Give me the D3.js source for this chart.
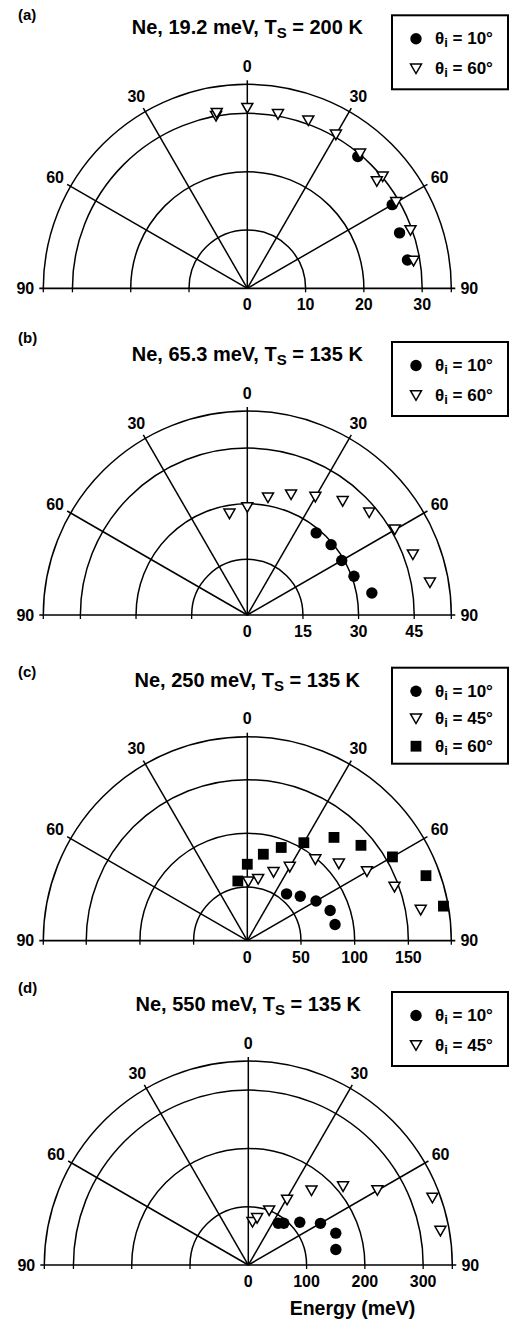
<!DOCTYPE html>
<html>
<head>
<meta charset="utf-8">
<script src="https://cdn.jsdelivr.net/npm/d3@7"></script>
<style>
  html, body { margin: 0; padding: 0; background: #fff; }
  svg { display: block; }
  text { font-family: "Liberation Sans", Arial, Helvetica, sans-serif; font-weight: bold; fill: #000; }
</style>
</head>
<body>
<svg id="chart" width="510" height="1321"></svg>
<script>
// ---- Data: scattered-atom angle (deg from normal) and final energy (meV) ----

// (a) Ne, 19.2 meV, Ts = 200 K
const aTitle = ["Ne, 19.2 meV, T", "S", " = 200 K"];
const aRings = [10, 20, 30];
const aOuter = 35;
const aTicks = ["0", "10", "20", "30"];
const aCircAngle = [40, 60, 70, 80];
const aCircEnergy = [29.5, 28.7, 27.8, 27.9];
const aTriAngle = [-10.3, -9.9, 0, 10, 20, 30, 40, 50.5, 50.5, 60, 70.5, 80.7];
const aTriEnergy = [30.0, 30.5, 30.9, 30.3, 30.6, 30.4, 30.1, 30.1, 28.8, 29.5, 29.7, 28.9];

// (b) Ne, 65.3 meV, Ts = 135 K
const bTitle = ["Ne, 65.3 meV, T", "S", " = 135 K"];
const bRings = [15, 30, 45];
const bOuter = 55;
const bTicks = ["0", "15", "30", "45"];
const bCircAngle = [40, 50, 60, 70, 80];
const bCircEnergy = [28.9, 29.5, 29.4, 30.6, 34.1];
const bTriAngle = [-10, 0, 10, 20, 30, 40, 50, 60, 70, 80];
const bTriEnergy = [27.7, 29.0, 32.1, 34.5, 36.7, 40.0, 42.9, 45.9, 47.5, 50.0];

// (c) Ne, 250 meV, Ts = 135 K
const cTitle = ["Ne, 250 meV, T", "S", " = 135 K"];
const cRings = [50, 100, 150];
const cOuter = 190;
const cTicks = ["0", "50", "100", "150"];
const cCircAngle = [40, 50, 60, 70, 79.5];
const cCircEnergy = [56.9, 64.4, 73.9, 82.1, 83.1];
const cTriAngle = [1, 10, 21, 30, 40, 50, 60, 70, 80];
const cTriEnergy = [54.9, 58.1, 68.2, 79.1, 98.6, 111.3, 128.7, 145.9, 164.0];
const cSqAngle = [-9, 0, 10.5, 20, 30, 40, 50, 60, 70, 80];
const cSqEnergy = [56.3, 71.2, 81.9, 92.4, 105.4, 125.6, 138.2, 156.1, 177.1, 185.5];

// (d) Ne, 550 meV, Ts = 135 K
const dTitle = ["Ne, 550 meV, T", "S", " = 135 K"];
const dRings = [100, 200, 300];
const dOuter = 350;
const dTicks = ["0", "100", "200", "300"];
const dCircAngle = [35.6, 40.4, 50.3, 60, 70, 80];
const dCircEnergy = [88, 94, 114.8, 143, 159.7, 152.5];
const dTriAngle = [5.6, 10.7, 21, 30.8, 40.4, 50.4, 60, 70, 80];
const dTriEnergy = [73.6, 81.5, 99.8, 129.9, 167.3, 211, 255.7, 336.1, 334.7];

// Polar angle grid (deg from surface normal) and its labels
const angleGrid = [-90, -60, -30, 0, 30, 60, 90];
const angleLabels = ["90", "60", "30", "0", "30", "60", "90"];

// Legend labels (incidence angles)
const legend10 = "10";
const legend45 = "45";
const legend60 = "60";

// ---- Panel layout ----
const R = 204;                 // outer ring radius in px
const panels = [
  { tag: "(a)", tagY: 20, cx: 247.3, cy: 288.3, title: aTitle, rings: aRings, outer: aOuter, ticks: aTicks,
    series: [
      { kind: "circle", angle: aCircAngle, energy: aCircEnergy, label: legend10 },
      { kind: "tri", angle: aTriAngle, energy: aTriEnergy, label: legend60 } ] },
  { tag: "(b)", tagY: 343, cx: 247.3, cy: 615, title: bTitle, rings: bRings, outer: bOuter, ticks: bTicks,
    series: [
      { kind: "circle", angle: bCircAngle, energy: bCircEnergy, label: legend10 },
      { kind: "tri", angle: bTriAngle, energy: bTriEnergy, label: legend60 } ] },
  { tag: "(c)", tagY: 677, cx: 247.3, cy: 940.7, title: cTitle, rings: cRings, outer: cOuter, ticks: cTicks,
    series: [
      { kind: "circle", angle: cCircAngle, energy: cCircEnergy, label: legend10 },
      { kind: "tri", angle: cTriAngle, energy: cTriEnergy, label: legend45 },
      { kind: "square", angle: cSqAngle, energy: cSqEnergy, label: legend60 } ] },
  { tag: "(d)", tagY: 993, cx: 248.3, cy: 1265, title: dTitle, rings: dRings, outer: dOuter, ticks: dTicks,
    series: [
      { kind: "circle", angle: dCircAngle, energy: dCircEnergy, label: legend10 },
      { kind: "tri", angle: dTriAngle, energy: dTriEnergy, label: legend45 } ] }
];

const svg = d3.select("#chart");
const toRad = d3.scaleLinear().domain([-90, 90]).range([-Math.PI / 2, Math.PI / 2]);

function marker(g, kind, x, y) {
  if (kind === "circle") {
    g.append("circle").attr("cx", x).attr("cy", y).attr("r", 5.7).attr("fill", "#000");
  } else if (kind === "square") {
    g.append("rect").attr("x", x - 5.4).attr("y", y - 5.4).attr("width", 10.8).attr("height", 10.8).attr("fill", "#000");
  } else {
    const w = 5.5, h = 4.8;
    g.append("path")
      .attr("d", `M${x - w},${y - h}L${x + w},${y - h}L${x},${y + h}Z`)
      .attr("fill", "#fff").attr("stroke", "#000").attr("stroke-width", 1.5)
      .attr("stroke-linejoin", "miter");
  }
}

panels.forEach(p => {
  const g = svg.append("g");
  const rScale = d3.scaleLinear().domain([0, p.outer]).range([0, R]);
  const pt = (a, e) => {
    const [x, y] = d3.pointRadial(toRad(a), rScale(e));
    return [p.cx + x, p.cy + y];
  };

  // rings: value rings plus the outer boundary
  const ringVals = p.rings.concat([p.outer]);
  ringVals.forEach(v => {
    const r = rScale(v);
    const path = d3.path();
    path.moveTo(p.cx - r, p.cy);
    path.arc(p.cx, p.cy, r, Math.PI, 2 * Math.PI);
    g.append("path").attr("d", path.toString())
      .attr("fill", "none").attr("stroke", "#000").attr("stroke-width", 1.5);
    // small ticks below the baseline
    [-1, 1].forEach(s => {
      g.append("line").attr("x1", p.cx + s * r).attr("x2", p.cx + s * r)
        .attr("y1", p.cy).attr("y2", p.cy + 4)
        .attr("stroke", "#000").attr("stroke-width", 1.3);
    });
  });

  // baseline (90° directions)
  g.append("line").attr("x1", p.cx - R - 4).attr("x2", p.cx + R + 4)
    .attr("y1", p.cy).attr("y2", p.cy).attr("stroke", "#000").attr("stroke-width", 1.7);

  // radial grid lines
  angleGrid.filter(a => Math.abs(a) < 90).forEach(a => {
    const [x, y] = d3.pointRadial(toRad(a), R + 4);
    g.append("line").attr("x1", p.cx).attr("y1", p.cy)
      .attr("x2", p.cx + x).attr("y2", p.cy + y)
      .attr("stroke", "#000").attr("stroke-width", 1.5);
  });

  // angle labels
  angleGrid.forEach((a, i) => {
    const [x, y] = d3.pointRadial(toRad(a), R + 18);
    g.append("text").attr("x", p.cx + x).attr("y", p.cy + y)
      .attr("text-anchor", "middle").attr("dy", "0.36em")
      .attr("font-size", 16).text(angleLabels[i]);
  });

  // energy tick labels on the baseline
  [0].concat(p.rings).forEach((v, i) => {
    g.append("text").attr("x", p.cx + rScale(v)).attr("y", p.cy + 22)
      .attr("text-anchor", "middle").attr("font-size", 16).text(p.ticks[i]);
  });

  // title
  const t = g.append("text").attr("x", p.cx).attr("y", p.cy - 254)
    .attr("text-anchor", "middle").attr("font-size", 20);
  t.append("tspan").text(p.title[0]);
  t.append("tspan").attr("font-size", 15).attr("dy", 4).text(p.title[1]);
  t.append("tspan").attr("dy", -4).text(p.title[2]);

  // panel tag
  g.append("text").attr("x", 18).attr("y", p.tagY).attr("font-size", 15).text(p.tag);

  // data points
  p.series.forEach(s => {
    s.angle.forEach((a, i) => {
      const [x, y] = pt(a, s.energy[i]);
      marker(g, s.kind, x, y);
    });
  });

  // legend
  const top = p.cy - 273;
  const n = p.series.length;
  const gap = n === 3 ? 27.5 : 30;
  g.append("rect").attr("x", 392).attr("y", top).attr("width", 116)
    .attr("height", n === 3 ? 96 : 74)
    .attr("fill", "#fff").attr("stroke", "#000").attr("stroke-width", 2);
  p.series.forEach((s, i) => {
    const y = top + 23.5 + i * gap;
    marker(g, s.kind, 416, y);
    const lt = g.append("text").attr("x", 435).attr("y", y + 5.5).attr("font-size", 17);
    lt.append("tspan").text("θ");
    lt.append("tspan").attr("font-size", 13).attr("dy", 3).text("i");
    lt.append("tspan").attr("dy", -3).text(" = " + s.label + "°");
  });
});

// radial axis title
svg.append("text").attr("x", 352.5).attr("y", 1315).attr("text-anchor", "middle")
  .attr("font-size", 19.5).text("Energy (meV)");
</script>
</body>
</html>
